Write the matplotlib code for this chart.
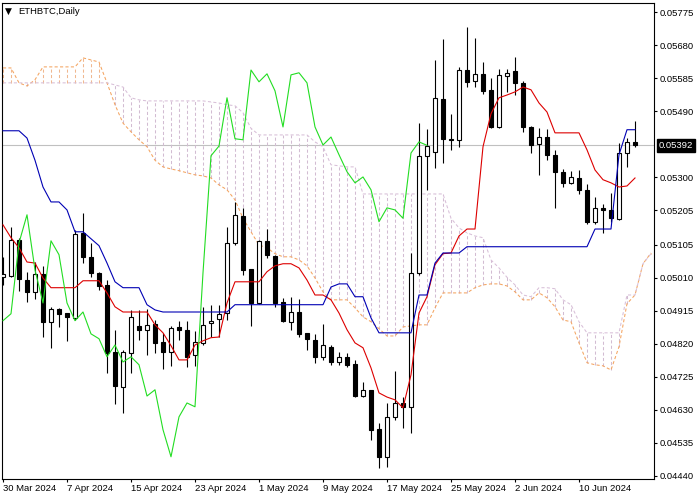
import matplotlib
matplotlib.use("Agg")
import matplotlib.pyplot as plt
import matplotlib.transforms as mtransforms
import numpy as np
import pandas as pd

# ETHBTC daily candles, 30 Mar 2024 .. 17 Jun 2024
dates = pd.date_range("2024-03-30", periods=80, freq="D")

opens = [0.05012, 0.05015, 0.05120, 0.05004, 0.04970, 0.05022, 0.04884, 0.04921, 0.04909, 0.04895,
         0.05140, 0.05071, 0.05025, 0.04990, 0.04797, 0.04696, 0.04794, 0.04872, 0.04861, 0.04878,
         0.04826, 0.04797, 0.04869, 0.04861, 0.04789, 0.04823, 0.04881, 0.04892, 0.04909, 0.05111,
         0.05189, 0.05036, 0.04938, 0.05117, 0.05074, 0.04941, 0.04884, 0.04912, 0.04852, 0.04832,
         0.04783, 0.04812, 0.04768, 0.04783, 0.04763, 0.04670, 0.04688, 0.04576, 0.04495, 0.04610,
         0.04650, 0.04639, 0.05025, 0.05362, 0.05373, 0.05526, 0.05411, 0.05408, 0.05609, 0.05578,
         0.05598, 0.05552, 0.05445, 0.05592, 0.05607, 0.05572, 0.05445, 0.05395, 0.05416, 0.05365,
         0.05316, 0.05284, 0.05298, 0.05264, 0.05172, 0.05212, 0.05206, 0.05179, 0.05370, 0.05402]
highs = [0.05071, 0.05157, 0.05126, 0.05028, 0.05056, 0.05045, 0.04927, 0.04924, 0.04909, 0.05149,
         0.05197, 0.05111, 0.05028, 0.05004, 0.04861, 0.04803, 0.04918, 0.04918, 0.04921, 0.04889,
         0.04852, 0.04872, 0.04887, 0.04887, 0.04858, 0.04927, 0.04933, 0.04933, 0.05157, 0.05229,
         0.05212, 0.05036, 0.05120, 0.05151, 0.05077, 0.04953, 0.04956, 0.04950, 0.04852, 0.04849,
         0.04878, 0.04817, 0.04797, 0.04794, 0.04774, 0.04711, 0.04688, 0.04593, 0.04650, 0.04742,
         0.04667, 0.05082, 0.05456, 0.05439, 0.05638, 0.05699, 0.05483, 0.05618, 0.05733, 0.05702,
         0.05632, 0.05585, 0.05611, 0.05611, 0.05647, 0.05578, 0.05448, 0.05441, 0.05439, 0.05379,
         0.05324, 0.05319, 0.05321, 0.05281, 0.05243, 0.05223, 0.05255, 0.05399, 0.05413, 0.05462]
lows = [0.04990, 0.05012, 0.04973, 0.04941, 0.04950, 0.04840, 0.04809, 0.04869, 0.04829, 0.04889,
        0.05053, 0.05012, 0.04976, 0.04737, 0.04648, 0.04622, 0.04737, 0.04832, 0.04789, 0.04794,
        0.04748, 0.04757, 0.04832, 0.04754, 0.04757, 0.04817, 0.04840, 0.04840, 0.04889, 0.05105,
        0.05019, 0.04872, 0.04936, 0.05067, 0.04927, 0.04884, 0.04861, 0.04840, 0.04803, 0.04766,
        0.04774, 0.04760, 0.04760, 0.04754, 0.04667, 0.04667, 0.04544, 0.04463, 0.04466, 0.04601,
        0.04578, 0.04564, 0.05019, 0.05264, 0.05327, 0.05341, 0.05379, 0.05388, 0.05560, 0.05560,
        0.05539, 0.05441, 0.05441, 0.05546, 0.05537, 0.05431, 0.05370, 0.05307, 0.05349, 0.05212,
        0.05272, 0.05281, 0.05252, 0.05166, 0.05166, 0.05140, 0.05172, 0.05177, 0.05330, 0.05388]
closes = [0.05022, 0.05120, 0.05007, 0.04970, 0.05022, 0.04884, 0.04921, 0.04907, 0.04898, 0.05137,
          0.05071, 0.05025, 0.04987, 0.04794, 0.04699, 0.04797, 0.04898, 0.04861, 0.04875, 0.04823,
          0.04797, 0.04866, 0.04861, 0.04783, 0.04826, 0.04875, 0.04887, 0.04907, 0.05111, 0.05192,
          0.05033, 0.04938, 0.05117, 0.05077, 0.04938, 0.04887, 0.04912, 0.04849, 0.04835, 0.04783,
          0.04817, 0.04768, 0.04783, 0.04760, 0.04670, 0.04688, 0.04573, 0.04495, 0.04610, 0.04650,
          0.04639, 0.05025, 0.05362, 0.05390, 0.05529, 0.05411, 0.05408, 0.05609, 0.05575, 0.05598,
          0.05549, 0.05445, 0.05595, 0.05601, 0.05572, 0.05445, 0.05393, 0.05416, 0.05365, 0.05316,
          0.05284, 0.05301, 0.05264, 0.05172, 0.05212, 0.05206, 0.05182, 0.05370, 0.05402, 0.05392]

# Ichimoku lines as drawn on the chart
tenkan = [0.05163, 0.05126, 0.05097, 0.05056, 0.05053, 0.05010, 0.04982, 0.04982, 0.04982, 0.04982,
          0.05002, 0.05002, 0.05002, 0.04967, 0.04927, 0.04912, 0.04912, 0.04912, 0.04912, 0.04875,
          0.04852, 0.04815, 0.04774, 0.04774, 0.04817, 0.04829, 0.04838, 0.04840, 0.04938, 0.04999,
          0.04999, 0.04999, 0.04999, 0.05028, 0.05045, 0.05051, 0.05051, 0.05039, 0.05004, 0.04961,
          0.04961, 0.04947, 0.04909, 0.04861, 0.04823, 0.04809, 0.04751, 0.04679, 0.04667, 0.04659,
          0.04636, 0.04731, 0.04909, 0.04956, 0.05048, 0.05080, 0.05082, 0.05131, 0.05151, 0.05151,
          0.05388, 0.05483, 0.05529, 0.05537, 0.05546, 0.05560, 0.05552, 0.05514, 0.05488, 0.05428,
          0.05428, 0.05428, 0.05428, 0.05379, 0.05321, 0.05293, 0.05284, 0.05272, 0.05275, 0.05298]
kijun = [0.05434, 0.05434, 0.05434, 0.05413, 0.05349, 0.05272, 0.05229, 0.05229, 0.05206, 0.05143,
         0.05143, 0.05123, 0.05103, 0.05053, 0.04999, 0.04982, 0.04982, 0.04982, 0.04933, 0.04918,
         0.04912, 0.04912, 0.04912, 0.04912, 0.04912, 0.04912, 0.04912, 0.04912, 0.04912, 0.04933,
         0.04933, 0.04933, 0.04933, 0.04933, 0.04933, 0.04933, 0.04933, 0.04933, 0.04933, 0.04933,
         0.04933, 0.04984, 0.04993, 0.04993, 0.04956, 0.04956, 0.04895, 0.04852, 0.04852, 0.04852,
         0.04852, 0.04852, 0.04961, 0.04961, 0.05053, 0.05082, 0.05082, 0.05082, 0.05100, 0.05100,
         0.05100, 0.05100, 0.05100, 0.05100, 0.05100, 0.05100, 0.05100, 0.05100, 0.05100, 0.05100,
         0.05100, 0.05100, 0.05100, 0.05100, 0.05151, 0.05151, 0.05151, 0.05365, 0.05437, 0.05437]
span_a = [0.05615, 0.05615, 0.05572, 0.05563, 0.05581, 0.05618, 0.05618, 0.05618, 0.05618, 0.05618,
          0.05644, 0.05638, 0.05632, 0.05572, 0.05509, 0.05456, 0.05431, 0.05408, 0.05388, 0.05349,
          0.05330, 0.05324, 0.05319, 0.05313, 0.05307, 0.05304, 0.05298, 0.05278, 0.05264, 0.05235,
          0.05182, 0.05143, 0.05105, 0.05097, 0.05080, 0.05071, 0.05071, 0.05062, 0.05045, 0.05010,
          0.04970, 0.04947, 0.04947, 0.04947, 0.04924, 0.04898, 0.04884, 0.04864, 0.04843, 0.04843,
          0.04869, 0.04872, 0.04875, 0.04875, 0.04924, 0.04967, 0.04967, 0.04967, 0.04967, 0.04982,
          0.04990, 0.04993, 0.04993, 0.04987, 0.04970, 0.04947, 0.04947, 0.04967, 0.04953, 0.04927,
          0.04889, 0.04884, 0.04823, 0.04766, 0.04760, 0.04757, 0.04745, 0.04812, 0.04936, 0.04961,
          0.05051, 0.05082]
span_b = [0.05572, 0.05572, 0.05572, 0.05572, 0.05572, 0.05572, 0.05572, 0.05572, 0.05572, 0.05572,
          0.05572, 0.05572, 0.05572, 0.05572, 0.05566, 0.05560, 0.05529, 0.05523, 0.05520, 0.05520,
          0.05520, 0.05520, 0.05520, 0.05520, 0.05520, 0.05520, 0.05517, 0.05514, 0.05509, 0.05506,
          0.05486, 0.05441, 0.05422, 0.05422, 0.05422, 0.05422, 0.05422, 0.05422, 0.05422, 0.05402,
          0.05388, 0.05336, 0.05333, 0.05330, 0.05330, 0.05252, 0.05252, 0.05252, 0.05252, 0.05252,
          0.05252, 0.05252, 0.05252, 0.05252, 0.05252, 0.05252, 0.05182, 0.05154, 0.05140, 0.05131,
          0.05126, 0.05062, 0.05039, 0.05012, 0.04990, 0.04961, 0.04956, 0.04982, 0.04982, 0.04979,
          0.04947, 0.04933, 0.04884, 0.04852, 0.04852, 0.04852, 0.04852, 0.04852, 0.04961, 0.04961,
          0.05051, 0.05080]
chikou_shift = 26

last_price = 0.05392
price_ticks = [0.05775, 0.05680, 0.05585, 0.05490, 0.05300, 0.05205, 0.05105,
               0.05010, 0.04915, 0.04820, 0.04725, 0.04630, 0.04535, 0.04440]

plt.rcParams["font.family"] = ["Liberation Sans", "DejaVu Sans"]
fs = 6.8

fig = plt.figure(figsize=(7, 5), dpi=100)
ax = fig.add_axes([2 / 700, 21 / 500, 652 / 700, 476 / 500])

x = np.arange(len(closes))
o = np.array(opens)
h = np.array(highs)
l = np.array(lows)
c = np.array(closes)

# kumo: dashed hatch between the two spans plus the span lines
dash = (0, (3, 2.2))
xc = np.arange(len(span_a))
sa = np.array(span_a)
sb = np.array(span_b)
hatch_colors = np.where(sa > sb, "#f0b890", "#d2bcd2")
ax.vlines(xc, np.minimum(sa, sb), np.maximum(sa, sb), colors=hatch_colors,
          linestyles=dash, linewidth=0.75, zorder=1)
ax.plot(xc, sa, color="sandybrown", ls=dash, lw=0.75, zorder=1.2)
ax.plot(xc, sb, color="thistle", ls=dash, lw=0.75, zorder=1.2)

# bid line
ax.axhline(last_price, color="#c0c0c0", lw=0.8, zorder=0.5)

# candles
up = c >= o
ax.vlines(x, l, h, color="black", lw=0.8, zorder=3)
ax.bar(x, np.abs(c - o), bottom=np.minimum(o, c), width=0.56,
       color=np.where(up, "white", "black"), edgecolor="black", linewidth=0.8, zorder=4)

# tenkan, kijun, chikou
ax.plot(x, tenkan, color="#dd0000", lw=0.8, zorder=5)
ax.plot(x, kijun, color="#0000b4", lw=0.8, zorder=5)
ax.plot(x[:len(c) - chikou_shift], c[chikou_shift:], color="#22dd22", lw=0.8, zorder=5)

ax.set_xlim(-0.125, 81.375)
ax.set_ylim(0.04431, 0.05802)

# axes styling
for s in ax.spines.values():
    s.set_linewidth(0.8)
    s.set_color("black")

ax.yaxis.tick_right()
ax.set_yticks(price_ticks)
ax.set_yticklabels([f"{v:.5f}" for v in price_ticks])
ax.tick_params(axis="y", direction="out", length=2.2, width=0.8, pad=2, labelsize=fs)

xt = list(range(0, len(dates), 8))
ax.set_xticks(xt)
ax.set_xticklabels([f"{dates[i].day} {dates[i].strftime('%b %Y')}" for i in xt], ha="left")
ax.tick_params(axis="x", direction="out", length=2.2, width=0.8, pad=1.5, labelsize=fs)

# current price tag on the scale
trans = mtransforms.blended_transform_factory(ax.transAxes, ax.transData)
ax.text(1.0 + 5 / 652, last_price, f"{last_price:.5f}", transform=trans, ha="left", va="center",
        color="white", fontsize=fs, zorder=10, clip_on=False,
        bbox=dict(facecolor="black", edgecolor="black", pad=1.2))

# chart caption
fig.text(5 / 700, 1 - 11 / 500, "\u25bc", fontsize=6.5, va="center", ha="left", family="DejaVu Sans")
fig.text(18 / 700, 1 - 11 / 500, "ETHBTC,Daily", fontsize=fs, va="center", ha="left")

fig.savefig("out.png", dpi=100)
